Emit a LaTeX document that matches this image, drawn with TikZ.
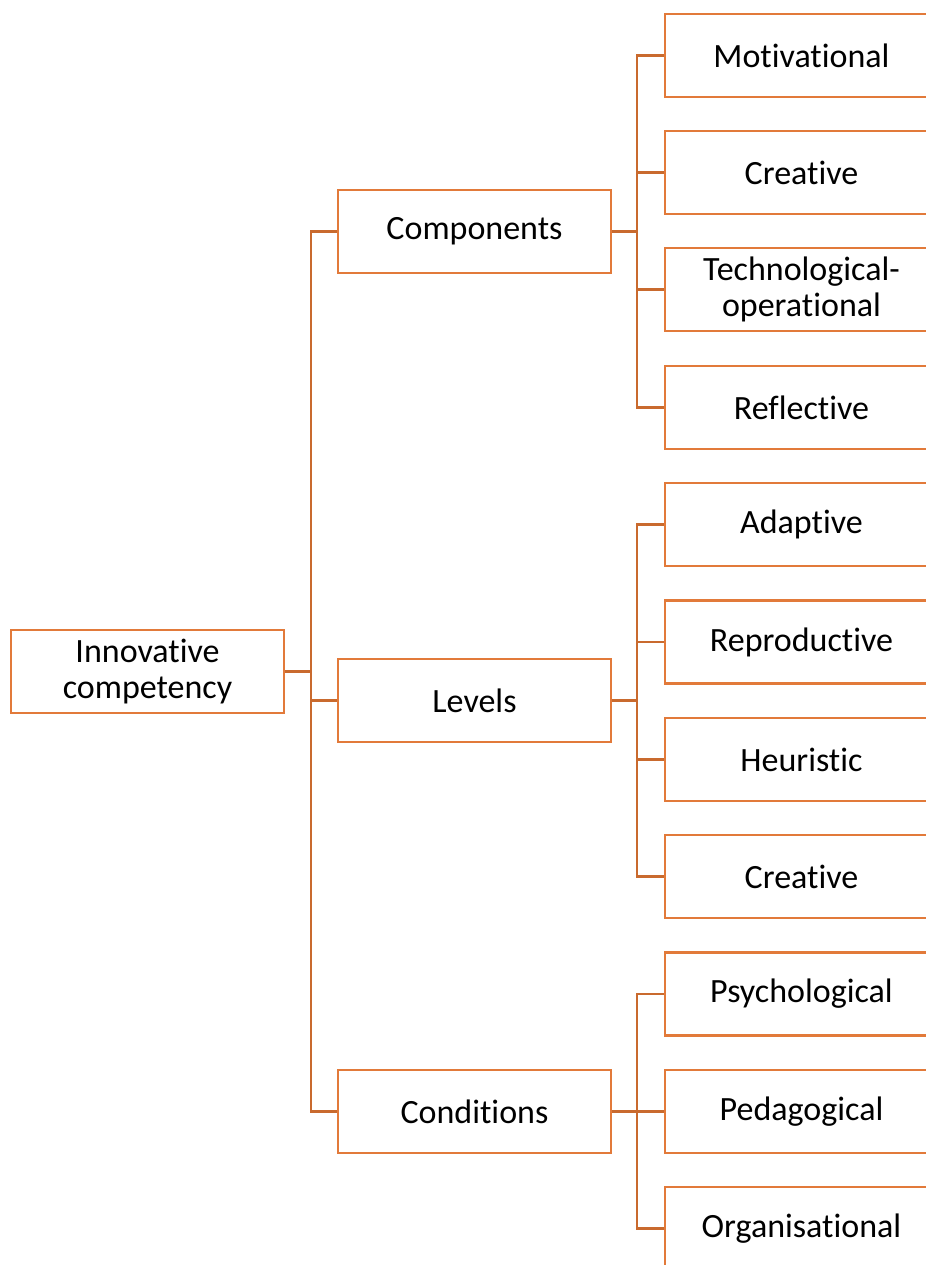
\documentclass[tikz,border=0pt]{standalone}
\usepackage{fontspec}
\setmainfont{Carlito}[Ligatures={NoCommon,NoContextual},Contextuals=NoAlternate]
\usepackage{tikz}
\definecolor{boxorange}{HTML}{E27A3A}
\definecolor{lineorange}{HTML}{C96A2E}

\begin{document}
\begin{tikzpicture}[x=0.5pt,y=-0.5pt,
	box/.style={rectangle,draw=boxorange,line width=1.4pt,fill=white,minimum width=136.5pt,minimum height=41.5pt,inner sep=0pt,align=center,font=\fontsize{17}{18}\selectfont},
	link/.style={draw=lineorange,line width=1.3pt}]
	\useasboundingbox (0,0) rectangle (926,1265);
	\clip (0,0) rectangle (926,1265);
	% root and first level
	\node at (147.5,671.5) [box] (root) {Innovative\\competency};
	\node at (474.5,231.5) [box] (comp) {Components};
	\node at (474.5,700.5) [box] (lev) {Levels};
	\node at (474.5,1111.5) [box] (cond) {Conditions};
	% second level
	\node at (801.5,55.5) [box] (mot) {Motivational};
	\node at (801.5,172.5) [box] (cre) {Creative};
	\node at (801.5,289.5) [box] (tec) {Technological-\\operational};
	\node at (801.5,407.5) [box] (ref) {Reflective};
	\node at (801.5,524.5) [box] (ada) {Adaptive};
	\node at (801.5,642) [box] (rep) {Reproductive};
	\node at (801.5,759.5) [box] (heu) {Heuristic};
	\node at (801.5,876.5) [box] (crl) {Creative};
	\node at (801.5,994) [box] (psy) {Psychological};
	\node at (801.5,1111.5) [box] (ped) {Pedagogical};
	\node at (801.5,1228.5) [box] (org) {Organisational};
	% connectors
	\coordinate (rbus) at (311,671.5);
	\draw[link] (root) -- (rbus);
	\foreach \n in {comp,lev,cond}
		\draw[link] (rbus) |- (\n);
	\coordinate (cbus) at (637,231.5);
	\draw[link] (comp) -- (cbus);
	\foreach \n in {mot,cre,tec,ref}
		\draw[link] (cbus) |- (\n);
	\coordinate (lbus) at (637,700.5);
	\draw[link] (lev) -- (lbus);
	\foreach \n in {ada,rep,heu,crl}
		\draw[link] (lbus) |- (\n);
	\coordinate (dbus) at (637,1111.5);
	\draw[link] (cond) -- (dbus);
	\foreach \n in {psy,ped,org}
		\draw[link] (dbus) |- (\n);
\end{tikzpicture}
\end{document}
